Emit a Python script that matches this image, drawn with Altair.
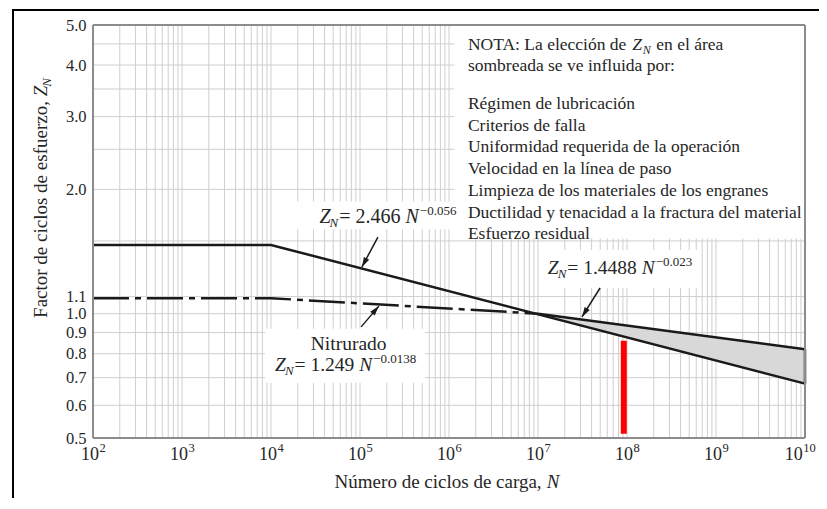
import math
import altair as alt
import pandas as pd

# ---------------- data ----------------
N_DOMAIN = [1e2, 1e10]
Z_DOMAIN = [0.5, 5.0]

upper_N = [1e2, 1e4, 1e10]          # Z_N = 2.466 N^-0.056 (flat below 1e4)
upper_Z = [1.467, 1.467, 0.677]

nitr_N = [1e2, 1e4, 1e7]            # Nitrurado, Z_N = 1.249 N^-0.0138
nitr_Z = [1.09, 1.09, 1.0]

band_N = [1e7, 1e10]                # shaded area
band_hi = [1.0, 0.82]               # Z_N = 1.4488 N^-0.023
band_lo = [1.0, 0.677]

red_N = [9.2e7]
red_lo = [0.512]
red_hi = [0.86]

x_tick_exps = [2, 3, 4, 5, 6, 7, 8, 9, 10]
y_ticks = [0.5, 0.6, 0.7, 0.8, 0.9, 1.0, 1.1, 2.0, 3.0, 4.0, 5.0]
y_grid = [0.5, 0.6, 0.7, 0.8, 0.9, 1.0, 1.1, 1.5, 2.0, 2.5, 3.0, 3.5, 4.0, 4.5, 5.0]
x_grid_mult = [1, 2, 3, 4, 5, 6, 7, 8, 9]

note_head = "NOTA: La elección de"
note_head_end = "en el área"
note_line2 = "sombreada se ve influida por:"
note_items = [
    "Régimen de lubricación",
    "Criterios de falla",
    "Uniformidad requerida de la operación",
    "Velocidad en la línea de paso",
    "Limpieza de los materiales de los engranes",
    "Ductilidad y tenacidad a la fractura del material",
    "Esfuerzo residual",
]

eq_upper = ("2.466", "0.056")
eq_nitr = ("1.249", "0.0138")
eq_band = ("1.4488", "0.023")

x_title = "Número de ciclos de carga,"
y_title = "Factor de ciclos de esfuerzo,"

# white label backgrounds (N1, N2, Z1, Z2)
box_N1 = [1.15e6, 1.7e4, 8.6e3, 1.2e7]
box_N2 = [1e10, 1.15e6, 5.4e5, 6.6e8]
box_Z1 = [1.52, 1.60, 0.68, 1.154]
box_Z2 = [5.0, 1.87, 0.92, 1.426]

# arrows: tail -> head
arr_tN = [1.59e5, 1.03e5, 4.98e7]
arr_tZ = [1.533, 0.929, 1.154]
arr_hN = [1.05e5, 1.63e5, 3.12e7]
arr_hZ = [1.297, 1.043, 0.982]

# ---------------- layout / style ----------------
W, H = 712, 413
FONT = "Liberation Serif"
TXT = "#262626"
LINE = "#1a1a1a"
GRID = "#cfcfcf"

TIMES = {" ": 250, ",": 250, ".": 250, ":": 278, "-": 333, "=": 564, "\u2212": 564,
         "A": 722, "B": 667, "C": 667, "D": 722, "E": 611, "F": 556, "G": 722, "H": 722,
         "I": 333, "J": 389, "K": 722, "L": 611, "M": 889, "N": 722, "O": 722, "P": 556,
         "Q": 722, "R": 667, "S": 556, "T": 611, "U": 722, "V": 722, "W": 944, "X": 722,
         "Y": 722, "Z": 611, "a": 444, "b": 500, "c": 444, "d": 500, "e": 444, "f": 333,
         "g": 500, "h": 500, "i": 278, "j": 278, "k": 500, "l": 278, "m": 778, "n": 500,
         "o": 500, "p": 500, "q": 500, "r": 333, "s": 389, "t": 278, "u": 500, "v": 500,
         "w": 722, "x": 500, "y": 500, "z": 444, "á": 444, "é": 444, "í": 278, "ó": 500,
         "ú": 500}
for d in "0123456789":
    TIMES[d] = 500
ITAL = {"Z": 556, "N": 667}


def tw(s, size):
    return sum(TIMES.get(c, 500) for c in s) / 1000.0 * size


def px(n):
    l0, l1 = math.log10(N_DOMAIN[0]), math.log10(N_DOMAIN[1])
    return (math.log10(n) - l0) / (l1 - l0) * W


def py(z):
    l0, l1 = math.log10(Z_DOMAIN[0]), math.log10(Z_DOMAIN[1])
    return H - (math.log10(z) - l0) / (l1 - l0) * H


xs = alt.Scale(type="log", domain=N_DOMAIN, nice=False)
ys = alt.Scale(type="log", domain=Z_DOMAIN, nice=False)

Y_AXIS = alt.Axis(values=y_ticks, format=".1f", grid=False, ticks=False, domain=False, title=None,
                  labelFont=FONT, labelFontSize=16.5, labelColor=TXT, labelPadding=7,
                  labelOverlap=False, labelFlush=False, labelBound=False)


def X(f="N"):
    return alt.X(f"{f}:Q", scale=xs, axis=None)


def Y(f="Z"):
    return alt.Y(f"{f}:Q", scale=ys, axis=Y_AXIS)


layers = []

# grid
xgrid_df = pd.DataFrame({"N": [m * 10 ** e for e in range(2, 10) for m in x_grid_mult] + [1e10]})
layers.append(alt.Chart(xgrid_df).mark_rule(color=GRID, strokeWidth=1).encode(x=X()))
layers.append(alt.Chart(pd.DataFrame({"Z": y_grid})).mark_rule(color=GRID, strokeWidth=1).encode(y=Y()))

# white backgrounds behind labels
boxes = pd.DataFrame({"N1": box_N1, "N2": box_N2, "Z1": box_Z1, "Z2": box_Z2})
layers.append(alt.Chart(boxes).mark_rect(color="white").encode(
    x=X("N1"), x2="N2:Q", y=Y("Z1"), y2="Z2:Q"))

# shaded band
band = pd.DataFrame({"N": band_N, "lo": band_lo, "hi": band_hi})
layers.append(alt.Chart(band).mark_area(color="#d8d8d8", opacity=1).encode(
    x=X(), y=Y("lo"), y2="hi:Q"))
layers.append(alt.Chart(band).mark_line(color=LINE, strokeWidth=2.5).encode(x=X(), y=Y("hi")))
layers.append(alt.Chart(pd.DataFrame({"N": band_N[-1:], "lo": band_lo[-1:], "hi": band_hi[-1:]}))
              .mark_rule(color=LINE, strokeWidth=2.5).encode(x=X(), y=Y("lo"), y2="hi:Q"))

# curves
layers.append(alt.Chart(pd.DataFrame({"N": upper_N, "Z": upper_Z})).mark_line(
    color=LINE, strokeWidth=2.5).encode(x=X(), y=Y()))
layers.append(alt.Chart(pd.DataFrame({"N": nitr_N, "Z": nitr_Z})).mark_line(
    color=LINE, strokeWidth=2.5, strokeDash=[36, 6, 6, 6]).encode(x=X(), y=Y()))

# red marker
layers.append(alt.Chart(pd.DataFrame({"N": red_N, "lo": red_lo, "hi": red_hi})).mark_rule(
    color="#ff0000", strokeWidth=6).encode(x=X(), y=Y("lo"), y2="hi:Q"))

# plot frame (at domain limits)
layers.append(alt.Chart(pd.DataFrame({"N": N_DOMAIN})).mark_rule(color="#8c8c8c", strokeWidth=2)
              .encode(x=X()))
layers.append(alt.Chart(pd.DataFrame({"Z": Z_DOMAIN})).mark_rule(color="#8c8c8c", strokeWidth=2)
              .encode(y=Y()))

# x tick labels: "10" with superscript exponent
BASE, EXPS = 18, 12.5
for group, shift in (([e for e in x_tick_exps if e < 10], 0.0), ([e for e in x_tick_exps if e >= 10], -5.0)):
    if not group:
        continue
    ew = tw(str(group[0]), EXPS)
    bw = tw("10", BASE)
    off = (bw - ew) / 2 + shift
    df = pd.DataFrame({"N": [10.0 ** e for e in group], "Z": [Z_DOMAIN[0]] * len(group),
                       "b": ["10"] * len(group), "e": [str(e) for e in group]})
    layers.append(alt.Chart(df).mark_text(align="right", baseline="alphabetic", dx=off, dy=22,
                                          fontSize=BASE, font=FONT, color=TXT)
                  .encode(x=X(), y=Y(), text="b:N"))
    layers.append(alt.Chart(df).mark_text(align="left", baseline="alphabetic", dx=off + 0.5, dy=14,
                                          fontSize=EXPS, font=FONT, color=TXT)
                  .encode(x=X(), y=Y(), text="e:N"))

# arrows
ang = []
for tN, tZ, hN, hZ in zip(arr_tN, arr_tZ, arr_hN, arr_hZ):
    dx = px(hN) - px(tN)
    dy = py(hZ) - py(tZ)
    ang.append(math.degrees(math.atan2(dx, -dy)) % 360)
arrows = pd.DataFrame({"tN": arr_tN, "tZ": arr_tZ, "hN": arr_hN, "hZ": arr_hZ, "ang": ang})
layers.append(alt.Chart(arrows).mark_rule(color=LINE, strokeWidth=1.5).encode(
    x=X("tN"), y=Y("tZ"), x2="hN:Q", y2="hZ:Q"))
layers.append(alt.Chart(arrows).mark_point(
    shape="M0,0L-1,3.3L1,3.3Z", filled=True, size=36, color=LINE, opacity=1, strokeWidth=0
).encode(x=X("hN"), y=Y("hZ"), angle=alt.Angle("ang:Q", scale=None)))


# text helpers
def piece(N, Z, t, dx=0.0, dy=0.0, size=19.5, style="normal", align="left"):
    return alt.Chart(pd.DataFrame({"N": [N], "Z": [Z], "t": [t]})).mark_text(
        align=align, baseline="alphabetic", dx=dx, dy=dy, fontSize=size,
        fontStyle=style, font=FONT, color=TXT).encode(x=X(), y=Y(), text="t:N")


def pix(x, y, t, dx=0.0, dy=0.0, size=19, style="normal", angle=0):
    return alt.Chart(pd.DataFrame({"t": [t]})).mark_text(
        align="left", baseline="alphabetic", dx=dx, dy=dy, fontSize=size, fontStyle=style,
        font=FONT, color=TXT, angle=angle).encode(x=alt.value(x), y=alt.value(y), text="t:N")


def equation(N, Z, coef, expo, size=19.5, small=13):
    out = []
    x = 0.0
    out.append(piece(N, Z, "Z", dx=x, size=size, style="italic"))
    x += ITAL["Z"] / 1000 * size
    out.append(piece(N, Z, "N", dx=x - 1, dy=4, size=small, style="italic"))
    x += ITAL["N"] / 1000 * small
    body = "= " + coef
    out.append(piece(N, Z, body, dx=x, size=size))
    x += tw(body + " ", size)
    out.append(piece(N, Z, "N", dx=x, size=size, style="italic"))
    x += ITAL["N"] / 1000 * size + 1
    out.append(piece(N, Z, "\u2212" + expo, dx=x, dy=-8, size=small))
    return out


layers += equation(3.5e4, 1.655, *eq_upper, size=20)
layers.append(piece(7.46e4, 0.817, "Nitrurado", align="center"))
layers += equation(1.11e4, 0.726, *eq_nitr)
layers += equation(1.29e7, 1.247, *eq_band)

# note
NS = 17.5
nx = 1.63e6
layers.append(piece(nx, 4.34, note_head, size=NS))
w0 = tw(note_head + " ", NS)
layers.append(piece(nx, 4.34, "Z", dx=w0, size=NS, style="italic"))
w1 = w0 + ITAL["Z"] / 1000 * NS
layers.append(piece(nx, 4.34, "N", dx=w1 + 1, dy=4, size=12, style="italic"))
w2 = w1 + 1 + ITAL["N"] / 1000 * 12 + tw(" ", NS) + 1
layers.append(piece(nx, 4.34, note_head_end, dx=w2, size=NS))
layers.append(piece(nx, 3.86, note_line2, size=NS))
layers.append(alt.Chart(pd.DataFrame({"N": [nx], "Z": [3.13], "t": ["\n".join(note_items)]}))
              .mark_text(align="left", baseline="alphabetic", fontSize=NS, font=FONT, color=TXT,
                         lineBreak="\n", lineHeight=21.7)
              .encode(x=X(), y=Y(), text="t:N"))

# axis titles
TS = 19
xt_w = tw(x_title + " ", TS) + ITAL["N"] / 1000 * TS
xt_x0 = (px(N_DOMAIN[0]) + px(N_DOMAIN[1])) / 2 - xt_w / 2 - 2
layers.append(pix(xt_x0, H + 50, x_title, size=TS))
layers.append(pix(xt_x0, H + 50, "N", dx=tw(x_title + " ", TS), size=TS, style="italic"))

yt_w = tw(y_title + " ", TS) + ITAL["Z"] / 1000 * TS + ITAL["N"] / 1000 * 13
yt_y0 = H / 2 - 34 + yt_w / 2
layers.append(pix(-46, yt_y0, y_title, size=TS, angle=270))
layers.append(pix(-46, yt_y0, "Z", dx=tw(y_title + " ", TS), size=TS, style="italic", angle=270))
layers.append(pix(-46, yt_y0, "N", dx=tw(y_title + " ", TS) + ITAL["Z"] / 1000 * TS - 1, dy=4,
                  size=13, style="italic", angle=270))

# outer black frame (top and left edges of the source figure)
layers.append(alt.Chart(pd.DataFrame({"a": [0]})).mark_rule(color="black", strokeWidth=2).encode(
    x=alt.value(-80), x2=alt.value(W + 20), y=alt.value(-15)))
layers.append(alt.Chart(pd.DataFrame({"a": [0]})).mark_rule(color="black", strokeWidth=2).encode(
    x=alt.value(-80), y=alt.value(-16), y2=alt.value(H + 70)))

chart = alt.layer(*layers).properties(
    width=W, height=H,
    autosize=alt.AutoSizeParams(type="none"),
    padding={"left": 85, "top": 17, "right": 14, "bottom": 60},
).configure_view(stroke=None)

chart.save("out.html", embed_options={"renderer": "svg", "actions": False})
